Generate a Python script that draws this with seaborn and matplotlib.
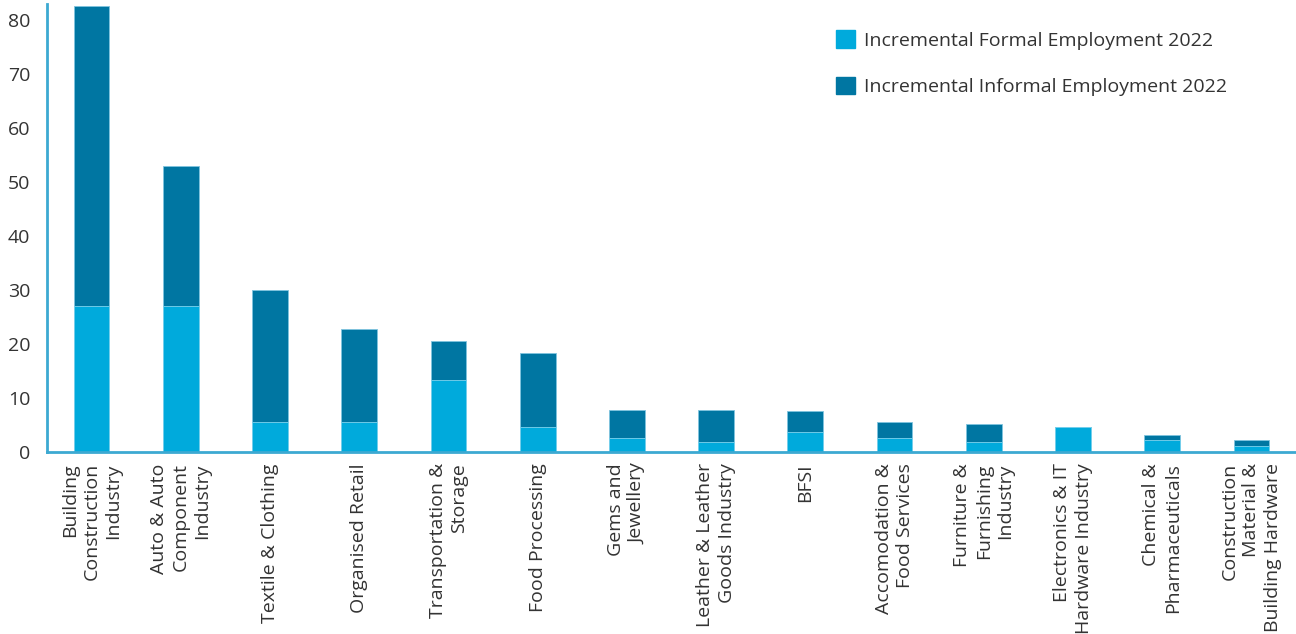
import pandas as pd
import matplotlib.pyplot as plt
import seaborn as sns
from matplotlib.patches import Patch

sns.set_style("white")
plt.rcParams['font.family'] = ['Open Sans', 'DejaVu Sans']

# Sectors (x axis labels, with the line breaks of the original)
sectors = [
    "Building\nConstruction\nIndustry",
    "Auto & Auto\nComponent\nIndustry",
    "Textile & Clothing",
    "Organised Retail",
    "Transportation &\nStorage",
    "Food Processing",
    "Gems and\nJewellery",
    "Leather & Leather\nGoods Industry",
    "BFSI",
    "Accomodation &\nFood Services",
    "Furniture &\nFurnishing\nIndustry",
    "Electronics & IT\nHardware Industry",
    "Chemical &\nPharmaceuticals",
    "Construction\nMaterial &\nBuilding Hardware",
]
formal = [27.0, 27.0, 5.6, 5.6, 13.4, 4.6, 2.6, 1.8, 3.8, 2.6, 1.8, 4.6, 2.2, 1.1]
informal = [55.6, 25.9, 24.4, 17.2, 7.2, 13.8, 5.2, 5.9, 3.8, 2.9, 3.4, 0.0, 1.0, 1.1]
yticks = [0, 10, 20, 30, 40, 50, 60, 70, 80]

formal_label = "Incremental Formal Employment 2022"
informal_label = "Incremental Informal Employment 2022"
c_formal = "#00AADC"
c_informal = "#0076A2"
c_axis = "#3CA9D2"
c_text = "#333333"

df = pd.DataFrame({"sector": sectors, "formal": formal, "informal": informal})
df["total"] = df["formal"] + df["informal"]

fig = plt.figure(figsize=(12.96, 6.34), dpi=100)
ax = fig.add_axes([0.0363, 0.287, 0.9637, 0.7067])

# stacked bars: total first (informal colour), then formal on top of it
sns.barplot(data=df, x="sector", y="total", color=c_informal, width=0.4,
            saturation=1, edgecolor="#7fc4df", linewidth=0.6, ax=ax)
sns.barplot(data=df, x="sector", y="formal", color=c_formal, width=0.4,
            saturation=1, edgecolor="#7fd4ee", linewidth=0.6, ax=ax)

ax.set_xlim(-0.5, len(sectors) - 0.5)
ax.set_ylim(0, 83)
ax.set_yticks(yticks)
ax.set_xlabel("")
ax.set_ylabel("")

for side in ["top", "right"]:
    ax.spines[side].set_visible(False)
for side in ["left", "bottom"]:
    ax.spines[side].set_color(c_axis)
    ax.spines[side].set_linewidth(2)

ax.tick_params(axis="y", length=0, pad=12, labelsize=14, labelcolor=c_text)
ax.tick_params(axis="x", length=0, pad=8, labelsize=14, labelcolor=c_text)
for lbl in ax.get_xticklabels():
    lbl.set_rotation(90)
    lbl.set_ha("center")
    lbl.set_va("top")
    lbl.set_multialignment("right")
    lbl.set_linespacing(1.25)

handles = [Patch(color=c_formal, label=formal_label),
           Patch(color=c_informal, label=informal_label)]
fig.legend(handles=handles, loc="upper left", bbox_to_anchor=(0.645, 0.952),
           frameon=False, fontsize=14, handlelength=1.0, handleheight=1.0,
           handletextpad=0.45, labelspacing=1.4, borderpad=0, borderaxespad=0,
           labelcolor=c_text)

plt.savefig("out.png", dpi=100)
